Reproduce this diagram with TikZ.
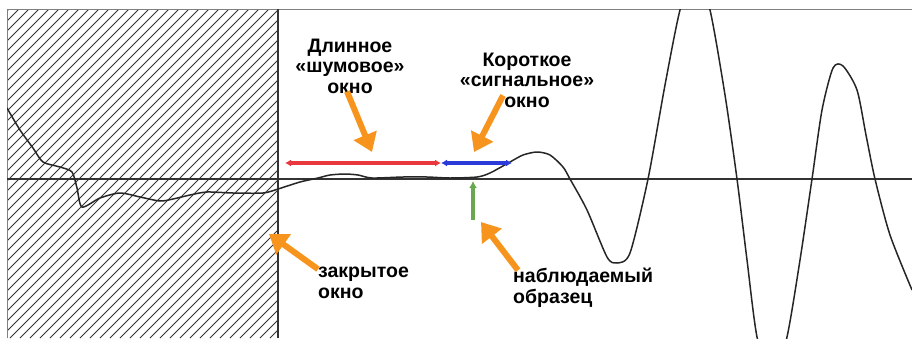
\documentclass[tikz,border=0pt]{standalone}
\usepackage{fontspec}
\setmainfont{Liberation Sans}
\usetikzlibrary{arrows.meta}
\definecolor{ptrorange}{HTML}{F7941D}
\definecolor{winred}{HTML}{E8383D}
\definecolor{winblue}{HTML}{2B3BD9}
\definecolor{obsgreen}{HTML}{6AA84F}
\tikzset{
  border/.style  = {draw=black!50, line width=0.8pt},
  axis/.style    = {draw=black!80, line width=1.5pt},
  hatch/.style   = {draw=black!80, line width=1pt},
  wave/.style    = {draw=black!85, line width=1.5pt, line join=round},
  win/.style     = {line width=3.2pt, {Latex[length=6pt,width=7pt]}-{Latex[length=6pt,width=7pt]}},
  pointer/.style = {draw=ptrorange, line width=6pt, -{Triangle[length=18pt,width=24pt]}},
  lbl/.style     = {font=\bfseries\fontsize{19.5}{20.5}\selectfont, inner sep=0pt}
}
\begin{document}
\begin{tikzpicture}[x=1pt,y=-1pt]
  \useasboundingbox (0,0) rectangle (912,338);
  % closed window, hatched
  \begin{scope}
    \clip (7,9) rectangle (278,338);
    \foreach \i in {-340,-330,...,280} \draw[hatch] (\i,338) -- ++(330,-330);
  \end{scope}
  \draw[border] (7,338) -- (7,9) -- (912,9);
  \draw[axis] (278,9) -- (278,338);
  \draw[axis] (7,179) -- (912,179);
  % signal
  \begin{scope}
    \clip (7,9) rectangle (912,338);
    \draw[wave] plot[smooth, tension=0.45] coordinates {
      (7,108) (20,130) (33,148) (43,162) (60,167) (72,172) (77,188) (82,207)
      (100,198) (120,193) (140,197) (160,201) (173,199) (190,195) (207,192)
      (233,193) (263,193) (278,189) (300,182) (318,178) (330,175) (345,174)
      (358,175) (372,178) (403,177) (427,177) (450,178) (477,177) (490,173)
      (510,162) (523,155) (537,152) (550,155) (563,167) (570,179) (587,210)
      (607,257) (617,263) (630,253) (648,179) (665,85) (680,10) (695,-30)
      (710,10) (725,95) (737,179) (747,260) (757,337) (772,385) (787,337)
      (800,260) (812,179) (822,110) (833,68) (843,66) (857,90) (866,135)
      (875,179) (890,235) (912,290)};
  \end{scope}
  % windows
  \coordinate (noiseL) at (285,163);
  \coordinate (noiseR) at (441,163);
  \coordinate (sigR)   at (512,163);
  \draw[win, winred]  (noiseL) -- (noiseR);
  \draw[win, winblue] (noiseR) -- (sigR);
  \coordinate (obs)    at (473,181);
  \coordinate (obsbot) at (473,220);
  \draw[obsgreen, line width=3.5pt, -{Latex[length=7pt,width=8pt]}] (obsbot) -- (obs);
  % labels
  \node[lbl, align=center] (noise) at (350,66) {Длинное\\«шумовое»\\окно};
  \node[lbl, align=center] (sig)   at (527,80) {Короткое\\«сигнальное»\\окно};
  \node[lbl, align=left, anchor=west] (closed) at (318,283) {закрытое\\окно};
  \node[lbl, align=left, anchor=west] (nabl)   at (513,288) {наблюдаемый\\образец};
  \coordinate (noisetip)  at (372,152);
  \coordinate (sigtip)    at (474,152);
  \coordinate (closedtip) at (269,234);
  \coordinate (nabltip)   at (481,222);
  \draw[pointer] ([xshift=-3pt,yshift=2pt]noise.south) -- (noisetip);
  \draw[pointer] ([xshift=-24pt,yshift=12pt]sig.south) -- (sigtip);
  \draw[pointer] ([yshift=-2pt]closed.north west) -- (closedtip);
  \draw[pointer] ([xshift=5pt,yshift=-2pt]nabl.north west) -- (nabltip);
\end{tikzpicture}
\end{document}
